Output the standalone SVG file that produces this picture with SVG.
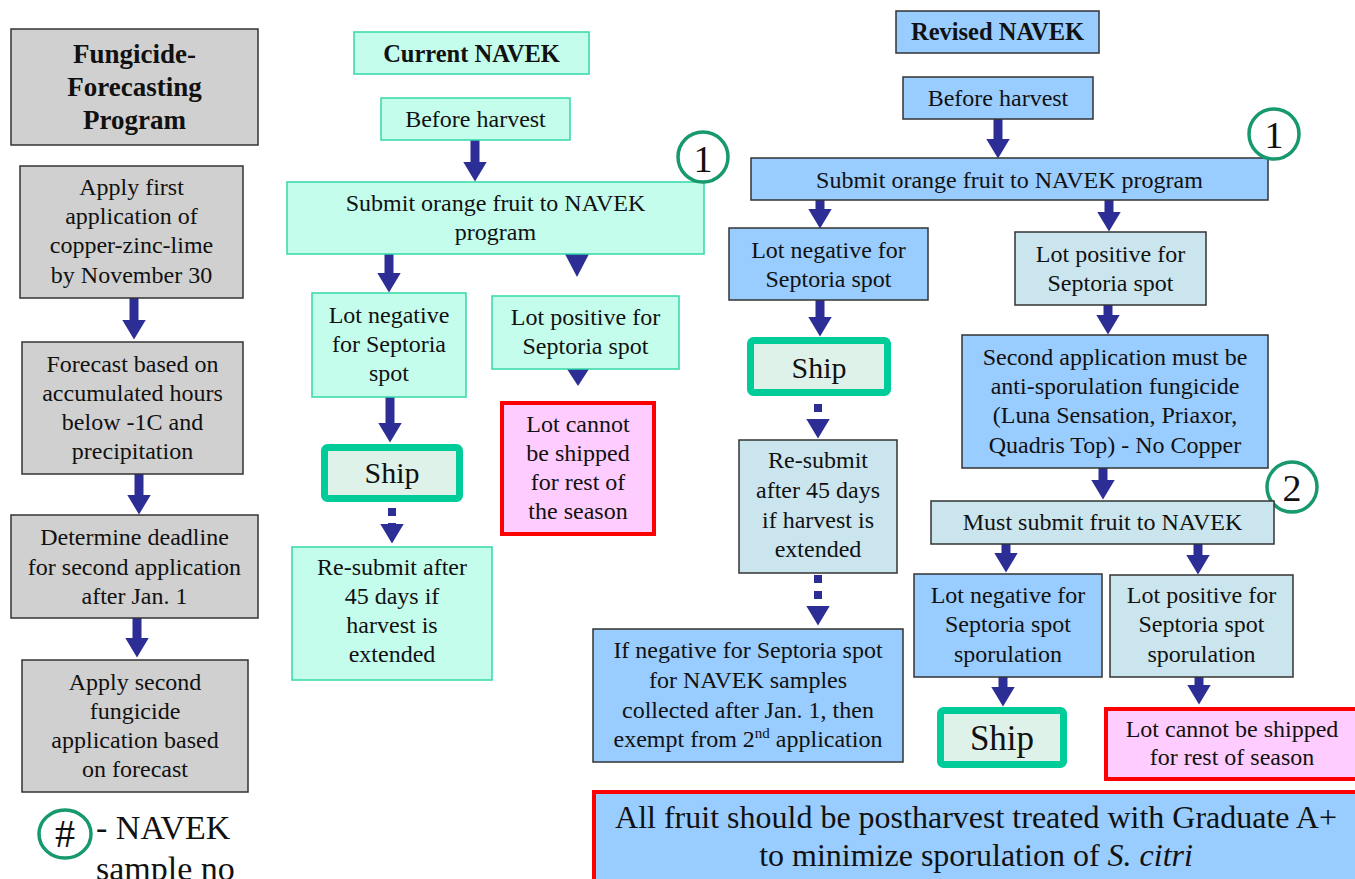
<svg xmlns="http://www.w3.org/2000/svg" width="1355" height="879" viewBox="0 0 1355 879">
<style>
text{font-family:"Liberation Serif","Times New Roman",serif;font-size:24px;fill:#111;text-anchor:middle}
.b{font-weight:bold}
.gray{fill:#d0d0d0;stroke:#333;stroke-width:1.5}
.mint{fill:#c4fdec;stroke:#33d9a8;stroke-width:1.5}
.blue{fill:#99ccff;stroke:#333;stroke-width:1.5}
.lb{fill:#cae5ee;stroke:#333;stroke-width:1.5}
.red{fill:#ffccff;stroke:#ff0000;stroke-width:4}
.ship{fill:#dff2ea;stroke:#00cc99;stroke-width:7}
.num{fill:#fff;stroke:#17996d;stroke-width:3.5}
.arr{stroke:#2d2d96;stroke-width:9;fill:none;marker-end:url(#h)}
.dot{stroke:#2d2d96;stroke-width:8;fill:none;stroke-dasharray:8 7;marker-end:url(#h)}
.tri{fill:#2d2d96}
</style>
<defs>
<marker id="h" viewBox="0 0 20 24" markerUnits="userSpaceOnUse" markerWidth="20" markerHeight="24" refX="0.5" refY="12" orient="auto">
<path d="M0,0 L20,12 L0,24 Z" fill="#2d2d96"/>
</marker>
</defs>
<rect width="1355" height="879" fill="#fff"/>

<g id="connectors">
<line class="arr" x1="134" y1="298" x2="134" y2="320"/>
<line class="arr" x1="139" y1="474" x2="139" y2="495"/>
<line class="arr" x1="137" y1="618" x2="137" y2="638"/>
<line class="arr" x1="475" y1="140" x2="475" y2="162"/>
<line class="arr" x1="389" y1="254" x2="389" y2="273"/>
<polygon class="tri" points="565,254 589,254 577,277"/>
<line class="arr" x1="390" y1="397" x2="390" y2="423"/>
<line class="dot" x1="392" y1="493" x2="392" y2="524"/>
<polygon class="tri" points="567,369 589,369 578,386"/>
<line class="arr" x1="998" y1="119" x2="998" y2="139"/>
<line class="arr" x1="820" y1="200" x2="820" y2="209"/>
<line class="arr" x1="1109" y1="200" x2="1109" y2="212"/>
<line class="arr" x1="820" y1="300" x2="820" y2="317"/>
<line class="dot" x1="818" y1="404" x2="818" y2="419"/>
<line class="dot" x1="818" y1="575" x2="818" y2="606" style="stroke-dasharray:8 8"/>
<line class="arr" x1="1108" y1="305" x2="1108" y2="315"/>
<line class="arr" x1="1103" y1="468" x2="1103" y2="480"/>
<line class="arr" x1="1006" y1="544" x2="1006" y2="553"/>
<line class="arr" x1="1198" y1="544" x2="1198" y2="555"/>
<line class="arr" x1="1003" y1="677" x2="1003" y2="687"/>
<line class="arr" x1="1199" y1="677" x2="1199" y2="685"/>
</g>

<g id="fungicide-title"><rect class="gray" x="11" y="29" width="247" height="116"/>
<text class="b" x="134.5" y="63" style="font-size:27px">Fungicide-</text>
<text class="b" x="134.5" y="96" style="font-size:27px">Forecasting</text>
<text class="b" x="134.5" y="129" style="font-size:27px">Program</text></g>

<g id="apply-first"><rect class="gray" x="20" y="166" width="223" height="132"/>
<text x="131.5" y="195">Apply first</text><text x="131.5" y="224">application  of</text><text x="131.5" y="253">copper-zinc-lime</text><text x="131.5" y="283">by November 30</text></g>

<g id="forecast"><rect class="gray" x="22" y="342" width="221" height="132"/>
<text x="132.5" y="372">Forecast based on</text><text x="132.5" y="401">accumulated  hours</text><text x="132.5" y="430">below -1C and</text><text x="132.5" y="459">precipitation</text></g>

<g id="deadline"><rect class="gray" x="11" y="515" width="247" height="103"/>
<text x="134.5" y="545">Determine  deadline</text><text x="134.5" y="575">for second application</text><text x="134.5" y="604">after Jan. 1</text></g>

<g id="apply-second"><rect class="gray" x="22" y="660" width="226" height="132"/>
<text x="135" y="690">Apply second</text><text x="135" y="719">fungicide</text><text x="135" y="748">application  based</text><text x="135" y="777">on forecast</text></g>

<g id="legend"><ellipse class="num" cx="65" cy="834" rx="26" ry="24"/>
<text x="65" y="847" style="font-size:40px">#</text>
<text x="96" y="839" style="font-size:34px;text-anchor:start">- NAVEK</text>
<text x="96" y="880" style="font-size:34px;text-anchor:start">sample no</text></g>

<g id="current-title"><rect class="mint" x="354" y="32" width="235" height="42"/>
<text class="b" x="471.5" y="62" style="font-size:24.5px">Current NAVEK</text></g>

<g id="cur-before"><rect class="mint" x="381" y="98" width="189" height="42"/>
<text x="475.5" y="127">Before harvest</text></g>

<g id="cur-submit"><rect class="mint" x="287" y="182" width="417" height="72"/>
<text x="495.5" y="211">Submit orange fruit to NAVEK</text><text x="495.5" y="240">program</text></g>

<g id="cur-num1"><circle class="num" cx="703" cy="157" r="25"/><text x="703" y="172" style="font-size:38px">1</text></g>

<g id="cur-neg"><rect class="mint" x="312" y="293" width="154" height="104"/>
<text x="389" y="323">Lot negative</text><text x="389" y="352">for Septoria</text><text x="389" y="381">spot</text></g>

<g id="cur-ship"><rect class="ship" x="324.5" y="447.5" width="135" height="51" rx="3"/>
<text x="392" y="483" style="font-size:30px">Ship</text></g>

<g id="cur-resubmit"><rect class="mint" x="292" y="547" width="200" height="133"/>
<text x="392" y="575">Re-submit after</text><text x="392" y="604">45 days if</text><text x="392" y="633">harvest is</text><text x="392" y="662">extended</text></g>

<g id="cur-pos"><rect class="mint" x="492" y="296" width="187" height="73"/>
<text x="585.5" y="325">Lot positive  for</text><text x="585.5" y="354">Septoria spot</text></g>

<g id="cur-cannot"><rect class="red" x="502" y="403" width="152" height="131"/>
<text x="578" y="432">Lot cannot</text><text x="578" y="461">be shipped</text><text x="578" y="490">for rest of</text><text x="578" y="519">the season</text></g>

<g id="rev-title"><rect class="blue" x="896" y="11" width="203" height="42"/>
<text class="b" x="997.5" y="40" style="font-size:24.5px">Revised NAVEK</text></g>

<g id="rev-before"><rect class="blue" x="903" y="77" width="190" height="42"/>
<text x="998" y="106">Before harvest</text></g>

<g id="rev-submit"><rect class="blue" x="751" y="158" width="517" height="42"/>
<text x="1009.5" y="188">Submit orange fruit to NAVEK program</text></g>

<g id="rev-num1"><circle class="num" cx="1274" cy="134" r="25"/><text x="1274" y="148" style="font-size:38px">1</text></g>

<g id="rev-neg"><rect class="blue" x="729" y="228" width="199" height="72"/>
<text x="828.5" y="258">Lot negative  for</text><text x="828.5" y="287">Septoria spot</text></g>

<g id="rev-ship1"><rect class="ship" x="750.5" y="340.5" width="137" height="52" rx="3"/>
<text x="819" y="378" style="font-size:30px">Ship</text></g>

<g id="rev-resubmit"><rect class="lb" x="739" y="440" width="158" height="133"/>
<text x="818" y="468">Re-submit</text><text x="818" y="498">after 45 days</text><text x="818" y="528">if harvest is</text><text x="818" y="557">extended</text></g>

<g id="rev-exempt"><rect class="blue" x="593" y="629" width="310" height="133"/>
<text x="748" y="658">If negative  for Septoria spot</text><text x="748" y="688">for NAVEK  samples</text><text x="748" y="718">collected after Jan. 1, then</text><text x="748" y="747">exempt  from 2<tspan style="font-size:15px" dy="-9">nd</tspan><tspan dy="9"> application</tspan></text></g>

<g id="rev-pos"><rect class="lb" x="1015" y="232" width="191" height="73"/>
<text x="1110.5" y="262">Lot positive  for</text><text x="1110.5" y="291">Septoria spot</text></g>

<g id="rev-second"><rect class="blue" x="962" y="335" width="306" height="133"/>
<text x="1115" y="365">Second application must be</text><text x="1115" y="394">anti-sporulation  fungicide</text><text x="1115" y="423">(Luna Sensation, Priaxor,</text><text x="1115" y="453">Quadris Top) - No Copper</text></g>

<g id="rev-num2"><circle class="num" cx="1292" cy="487" r="25"/><text x="1292" y="501" style="font-size:38px">2</text></g>

<g id="rev-must"><rect class="lb" x="931" y="501" width="343" height="43"/>
<text x="1102.5" y="530">Must submit  fruit to NAVEK</text></g>

<g id="rev-neg-spor"><rect class="blue" x="914" y="574" width="188" height="103"/>
<text x="1008" y="603">Lot negative  for</text><text x="1008" y="632">Septoria spot</text><text x="1008" y="662">sporulation</text></g>

<g id="rev-pos-spor"><rect class="lb" x="1110" y="575" width="183" height="102"/>
<text x="1201.5" y="603">Lot positive  for</text><text x="1201.5" y="632">Septoria spot</text><text x="1201.5" y="662">sporulation</text></g>

<g id="rev-ship2"><rect class="ship" x="940.5" y="710.5" width="123" height="54" rx="3"/>
<text x="1002" y="750" style="font-size:35px">Ship</text></g>

<g id="rev-cannot"><rect class="red" x="1106" y="709" width="258" height="70"/>
<text x="1232" y="737">Lot cannot be shipped</text><text x="1232" y="765">for rest of season</text></g>

<g id="postharvest"><rect class="blue" x="594" y="792" width="790" height="110" style="stroke:#ff0000;stroke-width:4"/>
<text x="976" y="828" style="font-size:32px">All fruit should be postharvest treated with Graduate A+</text>
<text x="976" y="866" style="font-size:32px">to minimize sporulation of <tspan font-style="italic">S. citri</tspan></text></g>
</svg>
